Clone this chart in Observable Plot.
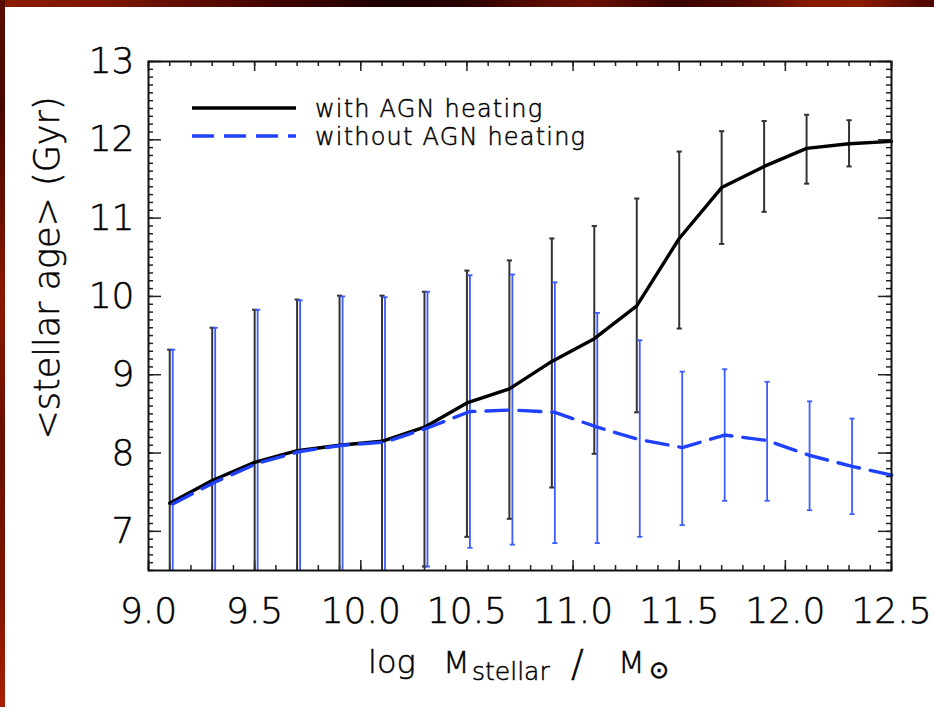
<!DOCTYPE html>
<html>
<head>
<meta charset="utf-8">
<script src="https://cdn.jsdelivr.net/npm/d3@7"></script>
<script src="https://cdn.jsdelivr.net/npm/@observablehq/plot@0.6"></script>
<style>
  html, body { margin: 0; padding: 0; background: #fff; }
  #wrap { position: relative; width: 934px; height: 707px; overflow: hidden; background: #fff; }
  #chart svg text { fill: #000; stroke: #000; stroke-width: 0.5px; }
  #topstrip { position: absolute; left: 0; top: 0; width: 934px; height: 7px;
    background: linear-gradient(to right, #8c1c02 0%, #7a1600 12%, #5a0b00 22%, #3a0300 32%, #1c0000 42%, #2a0200 50%, #5a0c00 58%, #6a1000 63%, #3a0400 72%, #520a00 80%, #8a1a00 87%, #8c1c00 92%, #4a0600 100%); }
  #leftstrip { position: absolute; left: 0; top: 0; width: 5px; height: 707px;
    background: linear-gradient(to bottom, #5a0e02 0%, #4a0800 15%, #6a1000 30%, #8a1800 42%, #6a1000 62%, #7a1400 82%, #a82000 100%); }
</style>
</head>
<body>
<div id="wrap">
  <div id="chart"></div>
  <div id="topstrip"></div>
  <div id="leftstrip"></div>
</div>
<script>
// ---- data ----
const mass = [9.1, 9.3, 9.5, 9.7, 9.9, 10.1, 10.3, 10.5, 10.7, 10.9, 11.1, 11.3, 11.5, 11.7, 11.9, 12.1, 12.3, 12.5];
const ageWithAGN    = [7.36, 7.65, 7.88, 8.03, 8.10, 8.15, 8.33, 8.64, 8.82, 9.17, 9.46, 9.88, 10.74, 11.39, 11.66, 11.89, 11.95, 11.98];
const ageWithoutAGN = [7.35, 7.63, 7.87, 8.02, 8.10, 8.14, 8.32, 8.53, 8.55, 8.52, 8.33, 8.17, 8.07, 8.23, 8.16, 7.97, 7.83, 7.71];
// error-bar ends (null = runs below the plotted range)
const withHi    = [9.32, 9.60, 9.83, 9.96, 10.01, 10.01, 10.06, 10.33, 10.46, 10.74, 10.90, 11.25, 11.85, 12.11, 12.24, 12.32, 12.25, null];
const withLo    = [null, null, null, null, null, null, 6.55, 6.93, 7.16, 7.56, 7.99, 8.52, 9.59, 10.67, 11.08, 11.44, 11.66, null];
const withoutHi = [9.32, 9.60, 9.83, 9.95, 10.00, 9.99, 10.06, 10.27, 10.28, 10.18, 9.79, 9.44, 9.04, 9.07, 8.91, 8.66, 8.44, null];
const withoutLo = [null, null, null, null, null, null, 6.55, 6.79, 6.83, 6.85, 6.85, 6.93, 7.08, 7.39, 7.39, 7.27, 7.22, null];

const xDomain = [9.0, 12.5];
const yDomain = [6.5, 13];
const xTickValues = [9.0, 9.5, 10.0, 10.5, 11.0, 11.5, 12.0, 12.5];
const yTickValues = [7, 8, 9, 10, 11, 12, 13];
const xMinorStep = 0.1;
const yMinorStep = 0.1;
const seriesNames = ["with AGN heating", "without AGN heating"];

// ---- derived tables ----
const lineWith = mass.map((m, i) => ({m, age: ageWithAGN[i]}));
const lineWithout = mass.map((m, i) => ({m, age: ageWithoutAGN[i]}));
function bars(hi, lo) {
  return mass.map((m, i) => ({m, hi: hi[i], lo: lo[i] == null ? yDomain[0] : lo[i], loCap: lo[i] != null}))
             .filter(d => d.hi != null);
}
const barsWith = bars(withHi, withLo);
const barsWithout = bars(withoutHi, withoutLo);
const capsOf = b => b.flatMap(d => [{m: d.m, y: d.hi}].concat(d.loCap ? [{m: d.m, y: d.lo}] : []));
const xMinor = d3.range(Math.round((xDomain[1] - xDomain[0]) / xMinorStep) + 1).map(i => +(xDomain[0] + i * xMinorStep).toFixed(2));
const yMinor = d3.range(Math.round((yDomain[1] - yDomain[0]) / yMinorStep) + 1).map(i => +(yDomain[0] + i * yMinorStep).toFixed(2));

const W = 934, H = 707, mL = 148, mR = 43, mT = 61, mB = 137;
const fw = W - mL - mR, fh = H - mT - mB;

const capSymbol = {draw(ctx, size) { const w = Math.sqrt(size / Math.PI); ctx.moveTo(-w, 0); ctx.lineTo(w, 0); }};

const black = "#000", barBlack = "#333", blue = "#1f40ff", barBlue = "#3d5cff";
const tickStroke = "#222";

const plot = Plot.plot({
  width: W, height: H,
  marginLeft: mL, marginRight: mR, marginTop: mT, marginBottom: mB,
  x: {domain: xDomain, ticks: xTickValues, tickSize: 0, tickPadding: 27, tickFormat: d3.format(".1f"), label: null},
  y: {domain: yDomain, ticks: yTickValues, tickSize: 0, tickPadding: 14, tickFormat: d3.format("d"), label: null},
  style: {background: "transparent", fontFamily: "'DejaVu Sans', sans-serif", fontSize: "36px", fontWeight: 200, color: "#000"},
  marks: [
    // inward minor/major ticks on all four sides
    Plot.ruleX(xMinor, {x: d => d, insetTop: fh - 5, stroke: tickStroke, strokeWidth: 1.5}),
    Plot.ruleX(xMinor, {x: d => d, insetBottom: fh - 5, stroke: tickStroke, strokeWidth: 1.5}),
    Plot.ruleX(xTickValues, {x: d => d, insetTop: fh - 10, stroke: tickStroke, strokeWidth: 1.5}),
    Plot.ruleX(xTickValues, {x: d => d, insetBottom: fh - 10, stroke: tickStroke, strokeWidth: 1.5}),
    Plot.ruleY(yMinor, {y: d => d, insetRight: fw - 5, stroke: tickStroke, strokeWidth: 1.5}),
    Plot.ruleY(yMinor, {y: d => d, insetLeft: fw - 5, stroke: tickStroke, strokeWidth: 1.5}),
    Plot.ruleY(yTickValues, {y: d => d, insetRight: fw - 13, stroke: tickStroke, strokeWidth: 1.5}),
    Plot.ruleY(yTickValues, {y: d => d, insetLeft: fw - 13, stroke: tickStroke, strokeWidth: 1.5}),
    // error bars
    Plot.ruleX(barsWith, {x: "m", y1: "lo", y2: "hi", stroke: barBlack, strokeWidth: 2}),
    Plot.dot(capsOf(barsWith), {x: "m", y: "y", symbol: capSymbol, r: 2.6, fill: "none", stroke: barBlack, strokeWidth: 2}),
    Plot.ruleX(barsWithout, {x: "m", y1: "lo", y2: "hi", dx: 3, stroke: barBlue, strokeWidth: 1.8}),
    Plot.dot(capsOf(barsWithout), {x: "m", y: "y", dx: 3, symbol: capSymbol, r: 2.6, fill: "none", stroke: barBlue, strokeWidth: 1.8}),
    // lines
    Plot.line(lineWith, {x: "m", y: "age", stroke: black, strokeWidth: 3.4}),
    Plot.line(lineWithout, {x: "m", y: "age", dx: 3, stroke: blue, strokeWidth: 3.4, strokeDasharray: "22,11"}),
    Plot.frame({stroke: "#111", strokeWidth: 2})
  ]
});
document.getElementById("chart").appendChild(plot);

// ---- legend and axis titles (text kept as real SVG text) ----
const svg = d3.select(plot);
const g = svg.append("g").attr("font-family", "'DejaVu Sans', sans-serif").attr("font-weight", 200)
  .attr("fill", "#000").attr("text-anchor", "start");
const legend = [{name: seriesNames[0], stroke: black, dash: null, y: 108}, {name: seriesNames[1], stroke: blue, dash: "22,10", y: 136}];
legend.forEach(d => {
  g.append("line").attr("x1", 192).attr("x2", 296).attr("y1", d.y).attr("y2", d.y)
    .attr("stroke", d.stroke).attr("stroke-width", 3.4).attr("stroke-dasharray", d.dash);
  g.append("text").attr("x", 315).attr("y", d.y + 9).attr("font-size", 24).attr("letter-spacing", "1.2px")
    .attr("text-anchor", "start").text(d.name);
});
// y title
g.append("text").attr("transform", "translate(59,268) rotate(-90)").attr("text-anchor", "middle")
  .attr("font-size", 35).text("<stellar age> (Gyr)");
// x title
const xt = g.append("g").attr("text-anchor", "start");
xt.append("text").attr("x", 368).attr("y", 673).attr("font-size", 32).text("log");
xt.append("text").attr("x", 443).attr("y", 673).attr("font-size", 31).text("M");
xt.append("text").attr("x", 472).attr("y", 680).attr("font-size", 25).text("stellar");
xt.append("text").attr("x", 571).attr("y", 676).attr("font-size", 38).text("/");
xt.append("text").attr("x", 618).attr("y", 673).attr("font-size", 31).text("M");
xt.append("text").attr("x", 649).attr("y", 678).attr("font-size", 24).text("\u2299");
</script>
</body>
</html>
